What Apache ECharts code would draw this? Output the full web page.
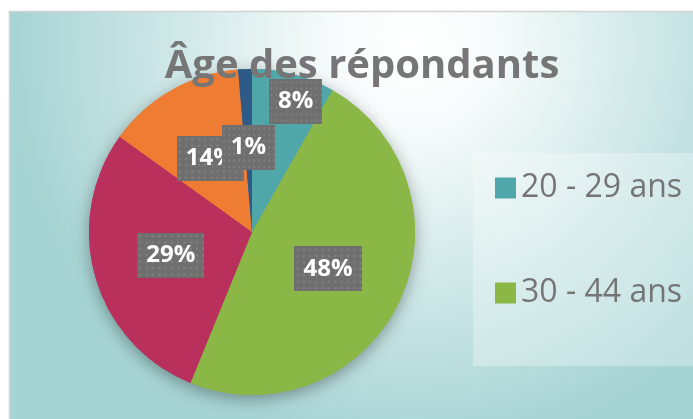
<!DOCTYPE html>
<html>
<head>
<meta charset="utf-8">
<script src="https://cdn.jsdelivr.net/npm/echarts@6/dist/echarts.min.js"></script>
<style>
  html, body { margin: 0; padding: 0; background: #fff; }
  #chart { width: 693px; height: 419px; }
</style>
</head>
<body>
<div id="chart"></div>
<script>
// age groups, clockwise from 12 o'clock
const categories = ['20 - 29 ans', '30 - 44 ans', '45 - 59 ans', '60 ans et plus', 'Moins de 20 ans'];
const counts = [6, 35, 21, 10, 1];
const sliceColors = ['#4fa7a9', '#8bb747', '#ba305c', '#ee7c33', '#2e5a87'];
// only the first two legend entries fit in the frame
const legendNames = categories.slice(0, 2);

// dotted grey fill used behind the data labels
function dotPattern() {
    let c = document.createElement('canvas');
    c.width = 64; c.height = 42;
    let ctx = c.getContext('2d');
    ctx.fillStyle = '#6f6f70';
    ctx.fillRect(0, 0, 64, 42);
    ctx.fillStyle = '#818182';
    for (let x = 2; x < 64; x += 6) {
        for (let y = 2; y < 42; y += 6) {
            ctx.fillRect(x, y, 2, 2);
        }
    }
    return c;
}
let pattern = dotPattern();

let pieData = categories.map(function (name, i) {
    let item = {name: name, value: counts[i], itemStyle: {color: sliceColors[i]}};
    if (i === 0) {
        // Excel pushed this one outward so it doesn't sit on the 1% box
        item.label = {offset: [22, -49]};
    }
    return item;
});

let myChart = echarts.init(document.getElementById('chart'));
let option = {
    backgroundColor: '#ffffff',
    animation: false,
    graphic: [
        {
            type: 'rect',
            z: -10,
            shape: {x: 9.5, y: 11.5, width: 720, height: 440},
            style: {
                fill: {
                    type: 'radial', x: 0.56, y: 0.08, r: 0.92,
                    colorStops: [
                        {offset: 0, color: '#ffffff'},
                        {offset: 0.2, color: '#f7fbfb'},
                        {offset: 1, color: '#a6d3d3'}
                    ]
                },
                stroke: '#d2d2d2',
                lineWidth: 1.5
            }
        },
        {
            type: 'rect',
            z: -9,
            shape: {x: 473, y: 153, width: 240, height: 213},
            style: {fill: 'rgba(255,255,255,0.3)'}
        }
    ],
    title: {
        text: 'Âge des répondants',
        left: 357,
        top: 42,
        textAlign: 'center',
        textStyle: {
            fontFamily: 'Open Sans',
            fontWeight: 'bold',
            fontSize: 40,
            color: '#767676'
        }
    },
    legend: {
        data: legendNames,
        orient: 'vertical',
        left: 490,
        top: 167,
        icon: 'rect',
        itemWidth: 21,
        itemHeight: 21,
        itemGap: 73,
        textStyle: {
            fontFamily: 'Open Sans',
            fontSize: 32,
            lineHeight: 32,
            color: '#757575'
        }
    },
    series: [
        {
            name: 'Âge',
            type: 'pie',
            z: 3,
            center: [252, 232],
            radius: 163,
            startAngle: 90,
            clockwise: true,
            percentPrecision: 0,
            minShowLabelAngle: 0,
            avoidLabelOverlap: false,
            labelLayout: {hideOverlap: false},
            labelLine: {show: false},
            itemStyle: {borderWidth: 0},
            label: {
                show: true,
                position: 'inside',
                formatter: '{d}%',
                fontFamily: 'Open Sans',
                fontWeight: 'bold',
                fontSize: 24,
                lineHeight: 26,
                color: '#ffffff',
                backgroundColor: {image: pattern},
                padding: [10, 9, 9, 9],
                shadowColor: 'rgba(0,0,0,0.45)',
                shadowBlur: 6,
                shadowOffsetX: 3,
                shadowOffsetY: 4
            },
            emphasis: {disabled: true},
            data: pieData
        },
        {
            // soft drop shadow under the whole pie
            name: 'ombre',
            type: 'pie',
            z: 2,
            silent: true,
            center: [252, 232],
            radius: 163,
            label: {show: false},
            labelLine: {show: false},
            itemStyle: {
                shadowColor: 'rgba(0,0,0,0.35)',
                shadowBlur: 16,
                shadowOffsetY: 4
            },
            data: pieData.map(function (d) {
                return {name: d.name, value: d.value, itemStyle: d.itemStyle};
            })
        }
    ]
};
myChart.setOption(option);
</script>
</body>
</html>
